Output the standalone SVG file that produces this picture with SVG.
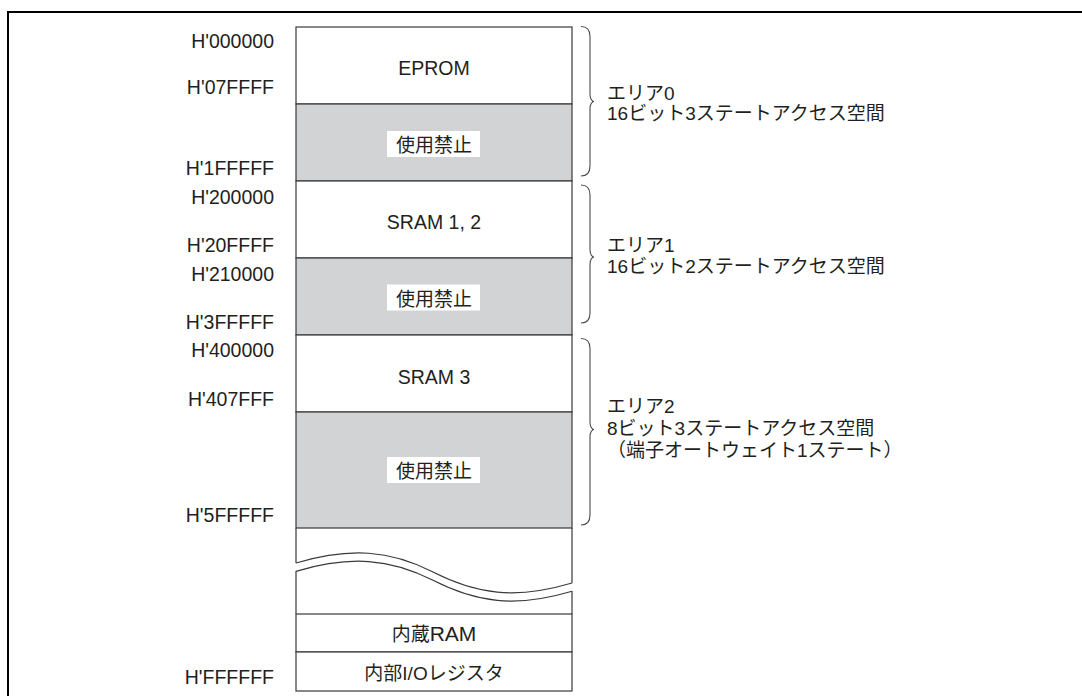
<svg xmlns="http://www.w3.org/2000/svg" width="1082" height="696" viewBox="0 0 1082 696">
<style>
text{font-family:"Liberation Sans","Noto Sans CJK JP",sans-serif;font-size:19px;fill:#231f20}
.addr{text-anchor:end;font-size:19.5px}
.lat{font-size:19.5px}
.mid{text-anchor:middle}
.blk{stroke:#3a3a3a;stroke-width:1.2}
.w{fill:#ffffff}
.g{fill:#d1d3d4}
.tag{fill:#ffffff;stroke:none}
.brace{fill:none;stroke:#4a4a4a;stroke-width:1.1}
.wave{fill:none;stroke:#3a3a3a;stroke-width:1.2}
</style>
<rect x="0" y="0" width="1082" height="696" fill="#ffffff"/>
<path d="M8,696 V12 H1082" fill="none" stroke="#000" stroke-width="2"/>

<g id="eprom"><rect class="blk w" x="296" y="27" width="276" height="77"/><text class="mid lat" x="434" y="75">EPROM</text></g>
<g id="reserved0"><rect class="blk g" x="296" y="104" width="276" height="77"/><rect class="tag" x="387" y="131" width="93" height="26"/><text class="mid" x="434" y="152">使用禁止</text></g>
<g id="sram12"><rect class="blk w" x="296" y="181" width="276" height="77"/><text class="mid lat" x="434" y="229">SRAM 1, 2</text></g>
<g id="reserved1"><rect class="blk g" x="296" y="258" width="276" height="77"/><rect class="tag" x="387" y="284.5" width="93" height="26"/><text class="mid" x="434" y="305.5">使用禁止</text></g>
<g id="sram3"><rect class="blk w" x="296" y="335" width="276" height="77"/><text class="mid lat" x="434" y="384">SRAM 3</text></g>
<g id="reserved2"><rect class="blk g" x="296" y="412" width="276" height="116"/><rect class="tag" x="387" y="457" width="93" height="26"/><text class="mid" x="434" y="478">使用禁止</text></g>
<g id="break">
<path class="blk" fill="none" d="M296,528 V563 M296,571 V614 M572,528 V583 M572,591 V614"/>
<path class="wave" d="M296,563 C350,547 390,550 433,572 C476,594 515,600 572,583"/>
<path class="wave" d="M296,571.3 C350,555.3 390,558.3 433,580.3 C476,602.3 515,608.3 572,591.3"/>
</g>
<g id="ram"><rect class="blk w" x="296" y="614" width="276" height="38"/><text class="mid" x="434" y="641">内蔵<tspan font-size="21">RAM</tspan></text></g>
<g id="io"><rect class="blk w" x="296" y="652" width="276" height="39"/><text class="mid" x="434" y="679.5">内部I/Oレジスタ</text></g>

<g id="addresses">
<text class="addr" x="274" y="48">H'000000</text>
<text class="addr" x="274" y="94">H'07FFFF</text>
<text class="addr" x="274" y="175">H'1FFFFF</text>
<text class="addr" x="274" y="204">H'200000</text>
<text class="addr" x="274" y="251.5">H'20FFFF</text>
<text class="addr" x="274" y="280.5">H'210000</text>
<text class="addr" x="274" y="329">H'3FFFFF</text>
<text class="addr" x="274" y="357">H'400000</text>
<text class="addr" x="274" y="406">H'407FFF</text>
<text class="addr" x="274" y="522">H'5FFFFF</text>
<text class="addr" x="274" y="683.5">H'FFFFFF</text>
</g>

<g id="connectors">
<path class="brace" d="M581,26.5 C587,26.5 590,29.5 590,36.5 V94.5 C590,98.5 592,101.5 594,101.5 C592,101.5 590,104.5 590,108.5 V166 C590,173 587,176 581,176"/>
<path class="brace" d="M581,185 C587,185 590,188 590,195 V250 C590,254 592,257 594,257 C592,257 590,260 590,264 V313 C590,320 587,323 581,323"/>
<path class="brace" d="M581,338.5 C587,338.5 590,341.5 590,348.5 V422.5 C590,426.5 592,429.5 594,429.5 C592,429.5 590,432.5 590,436.5 V515 C590,522 587,525 581,525"/>
</g>

<g id="area0"><text x="607" y="100">エリア0</text><text x="607" y="120">16ビット3ステートアクセス空間</text></g>
<g id="area1"><text x="607" y="252">エリア1</text><text x="607" y="273">16ビット2ステートアクセス空間</text></g>
<g id="area2"><text x="607" y="412.5">エリア2</text><text x="607" y="434.5">8ビット3ステートアクセス空間</text><text x="607" y="456.5">（端子オートウェイト1ステート）</text></g>
</svg>
